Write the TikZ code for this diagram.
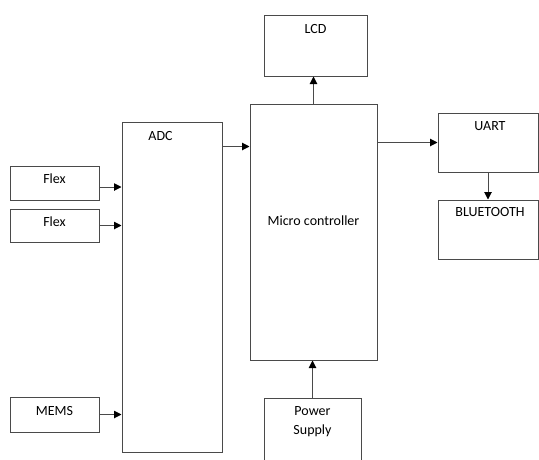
\documentclass[tikz,border=0pt]{standalone}
\usepackage{fontspec}
\setmainfont{Carlito}
\usepackage{xcolor}
\usetikzlibrary{arrows.meta}
\definecolor{boxgray}{HTML}{4A4A4A}
\tikzset{
  blk/.style={draw=boxgray, line width=1pt, inner sep=0pt},
  arr/.style={draw=boxgray, line width=1pt, -{Triangle[length=7.5pt,width=7.5pt,color=black]}},
  tag/.style={anchor=center, font=\fontsize{14}{19}\selectfont, inner sep=0pt, text=black}
}
\begin{document}
\begin{tikzpicture}[x=1pt, y=-1pt]
            \useasboundingbox (0,0) rectangle (539,459);
            \clip (0,0) rectangle (539,459);
            \node[blk, minimum width=89pt, minimum height=34pt, label={[tag,yshift=-13pt]north:Flex}] (flexa) at (54.5,183) {};
            \node[blk, minimum width=89pt, minimum height=33pt, label={[tag,yshift=-13pt]north:Flex}] (flexb) at (54.5,225.5) {};
            \node[blk, minimum width=89pt, minimum height=35pt, label={[tag,yshift=-14pt]north:MEMS}] (mems) at (54.5,414.5) {};
            \node[blk, minimum width=100pt, minimum height=330pt, label={[tag,xshift=-11.5pt,yshift=-14pt]north:ADC}] (adc) at (172,287) {};
            \node[blk, minimum width=127pt, minimum height=256pt, label={[tag,yshift=11pt]center:Micro controller}] (mcu) at (313.5,232) {};
            \node[blk, minimum width=103pt, minimum height=61pt, label={[tag,yshift=-15pt]north:LCD}] (lcd) at (315.5,45.5) {};
            \node[blk, minimum width=100pt, minimum height=59pt, label={[tag,xshift=2pt,yshift=-14pt]north:UART}] (uart) at (488,142.5) {};
            \node[blk, minimum width=100pt, minimum height=59pt, label={[tag,xshift=2pt,yshift=-13pt]north:BLUETOOTH}] (bt) at (488,229.5) {};
            \node[blk, minimum width=97pt, minimum height=66pt, label={[tag,anchor=north,align=center,yshift=-9pt]north:{Power\\Supply}}] (power) at (312.5,431) {};
            \draw[arr] ([yshift=-4pt]flexa.east) -- ([yshift=-4pt]flexa.east -| adc.west);
            \draw[arr] (flexb.east) -- (flexb.east -| adc.west);
            \draw[arr] (mems.east) -- (mems.east -| adc.west);
            \draw[arr] ([yshift=-25pt]adc.north east) -- ([yshift=-25pt]adc.north east -| mcu.west);
            \draw[arr] (mcu.north) -- (mcu.north |- lcd.south);
            \draw[arr] (mcu.east |- uart.west) -- (uart.west);
            \draw[arr] (uart.south) -- (bt.north);
            \draw[arr] (power.north) -- (power.north |- mcu.south);
        \end{tikzpicture}
\end{document}
